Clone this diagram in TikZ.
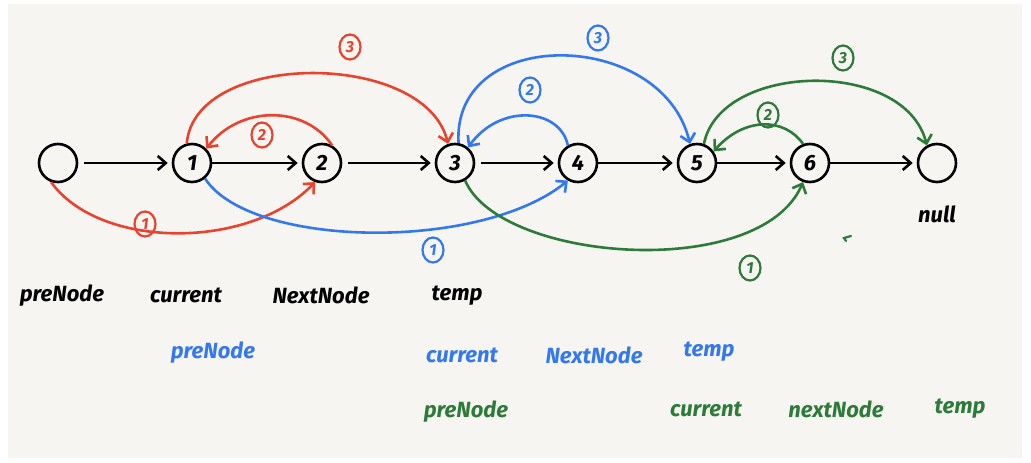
\documentclass[tikz,border=0pt]{standalone}
\usepackage{fontspec}
\setmainfont{Fira Sans}
\usetikzlibrary{arrows.meta}
\definecolor{paper}{HTML}{F6F5F1}
\definecolor{pred}{HTML}{E8432F}
\definecolor{pblue}{HTML}{3478F0}
\definecolor{pgreen}{HTML}{2E7A3A}
\tikzset{
  lnode/.style={circle,draw=black,line width=2.6pt,minimum size=38pt,inner sep=0pt,font=\bfseries\itshape\fontsize{22}{22}\selectfont},
  blk/.style={draw=black,line width=2.6pt,-{Straight Barb[length=8pt,width=14pt,line width=2.6pt]}},
  carrow/.style={line width=2.6pt,-{Straight Barb[length=8pt,width=15pt,line width=2.6pt]}},
  cnum/.style={ellipse,draw,line width=2.2pt,inner sep=1pt,minimum width=21pt,minimum height=25pt,font=\bfseries\itshape\fontsize{16}{16}\selectfont},
  lab/.style={font=\bfseries\itshape\fontsize{22}{22}\selectfont,inner sep=0pt}
}
\usetikzlibrary{shapes.geometric}
\begin{document}
\begin{tikzpicture}[x=1pt,y=-1pt]
\useasboundingbox (0,0) rectangle (1031,463);
\fill[white] (0,0) rectangle (1031,463);
\fill[paper] (8,4) rectangle (1022,458);
% list nodes
\node[lnode] (n0) at (58,163) {};
\node[lnode] (n1) at (192,163) {1};
\node[lnode] (n2) at (322,163) {2};
\node[lnode] (n3) at (455,163) {3};
\node[lnode] (n4) at (578,163) {4};
\node[lnode] (n5) at (697,163) {5};
\node[lnode] (n6) at (810,163) {6};
\node[lnode] (nn) at (937,163) {};
\node[lab] (nulltxt) at (937,214) {null};
% black arrows
\draw[blk] ([xshift=6pt]n0.east) -- ([xshift=-4pt]n1.west);
\draw[blk] (n1) -- ([xshift=-4pt]n2.west);
\draw[blk] ([xshift=6pt]n2.east) -- ([xshift=-4pt]n3.west);
\draw[blk] ([xshift=6pt]n3.east) -- ([xshift=-4pt]n4.west);
\draw[blk] (n4) -- ([xshift=-4pt]n5.west);
\draw[blk] (n5) -- ([xshift=-4pt]n6.west);
\draw[blk] (n6) -- ([xshift=-4pt]nn.west);
% red
\draw[carrow,pred] (n0.-110) .. controls (100,250) and (250,250) .. (n2.-110);
\draw[carrow,pred] (n2.60) .. controls (305,105) and (240,105) .. (n1.45);
\draw[carrow,pred] (n1.105) .. controls (195,50) and (425,50) .. (n3.110);
\node[cnum,pred] (r1) at (145,224) {1};
\node[cnum,pred] (r2) at (262,135) {2};
\node[cnum,pred] (r3) at (350,47) {3};
% blue
\draw[carrow,pblue] (n1.-50) .. controls (250,248) and (480,252) .. (n4.-120);
\draw[carrow,pblue] (n4.120) .. controls (560,108) and (500,103) .. (n3.50);
\draw[carrow,pblue] (n3.80) .. controls (452,25) and (662,28) .. (n5.110);
\node[cnum,pblue] (b1) at (433,250) {1};
\node[cnum,pblue] (b2) at (530,90) {2};
\node[cnum,pblue] (b3) at (598,38) {3};
% green
\draw[carrow,pgreen] (n3.-60) .. controls (500,262) and (760,282) .. (n6.-110);
\draw[carrow,pgreen] (n6.110) .. controls (785,118) and (745,116) .. (n5.35);
\draw[carrow,pgreen] (n5.70) .. controls (720,62) and (905,58) .. (nn.120);
\node[cnum,pgreen] (g1) at (750,268) {1};
\node[cnum,pgreen] (g2) at (768,115) {2};
\node[cnum,pgreen] (g3) at (843,58) {3};
\draw[pgreen,line width=2.2pt,line cap=round] (851,236) -- (844,238) -- (846,241);
% labels row 1
\node[lab] (t1) at (62,296) {preNode};
\node[lab] (t2) at (186,295) {current};
\node[lab] (t3) at (321,295) {NextNode};
\node[lab] (t4) at (457,296) {temp};
% row 2
\node[lab,pblue] (u1) at (213,353) {preNode};
\node[lab,pblue] (u2) at (462,355) {current};
\node[lab,pblue] (u3) at (594,355) {NextNode};
\node[lab,pblue] (u4) at (709,352) {temp};
% row 3
\node[lab,pgreen] (v1) at (466,412) {preNode};
\node[lab,pgreen] (v2) at (706,409) {current};
\node[lab,pgreen] (v3) at (836,409) {nextNode};
\node[lab,pgreen] (v4) at (960,409) {temp};
\end{tikzpicture}
\end{document}
